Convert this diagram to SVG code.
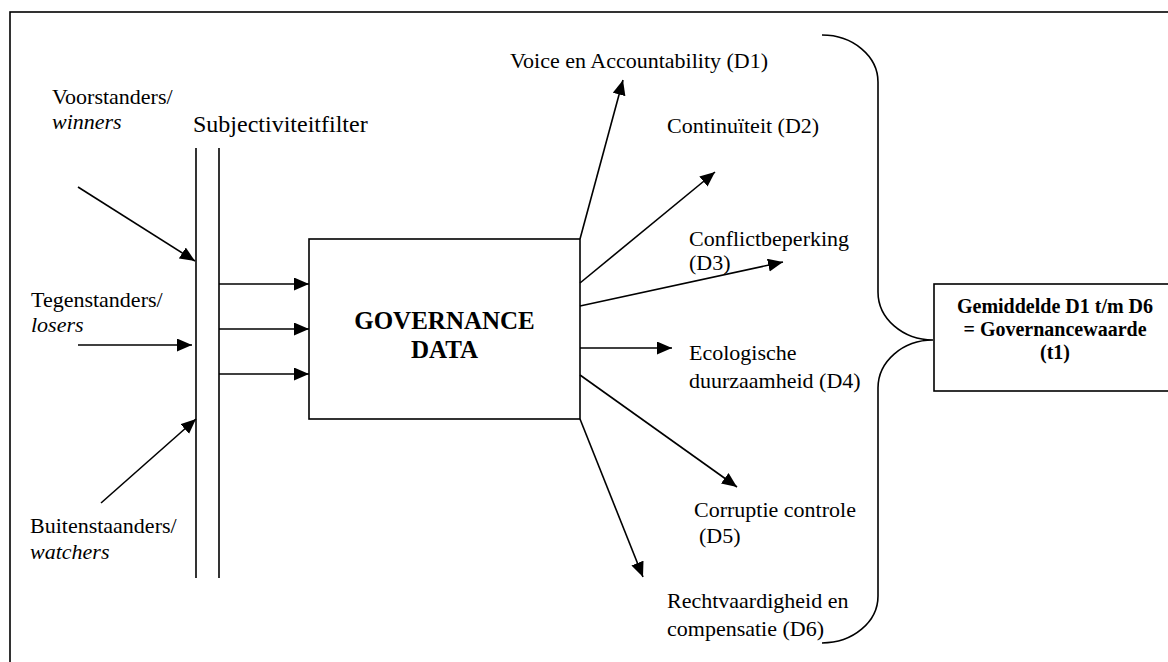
<svg xmlns="http://www.w3.org/2000/svg" width="1168" height="662" viewBox="0 0 1168 662">
<style>
  .ln { fill: none; stroke: #000; stroke-width: 1.6; }
  .t { font-family: "Liberation Serif", "Times New Roman", Times, "DejaVu Serif", serif; font-size: 22px; fill: #000; }
  .i { font-style: italic; }
  .big { font-size: 24px; }
  .gd { font-size: 25px; font-weight: bold; text-anchor: middle; }
  .rs { font-size: 20px; font-weight: bold; text-anchor: middle; }
</style>
<defs>
  <marker id="ah" markerUnits="userSpaceOnUse" markerWidth="16" markerHeight="14" refX="15" refY="6.5" orient="auto">
    <path d="M0,0 L15,6.5 L0,13 z" fill="#000"/>
  </marker>
</defs>
<rect x="0" y="0" width="1168" height="662" fill="#fff"/>
<rect id="frame" class="ln" x="10" y="12" width="1175" height="670"/>

<g id="voorstanders">
  <text class="t" x="52" y="104">Voorstanders/</text>
  <text class="t i" x="52" y="129">winners</text>
</g>
<g id="tegenstanders">
  <text class="t" x="31" y="307">Tegenstanders/</text>
  <text class="t i" x="31" y="332">losers</text>
</g>
<g id="buitenstaanders">
  <text class="t" x="30" y="533">Buitenstaanders/</text>
  <text class="t i" x="30" y="559">watchers</text>
</g>
<g id="filter">
  <text class="t big" x="193" y="132">Subjectiviteitfilter</text>
  <line class="ln" x1="196" y1="148" x2="196" y2="578"/>
  <line class="ln" x1="219" y1="148" x2="219" y2="578"/>
</g>
<g id="governance">
  <rect class="ln" x="309" y="239" width="271" height="180"/>
  <text class="t gd" x="444.5" y="329">GOVERNANCE</text>
  <text class="t gd" x="444.5" y="358">DATA</text>
</g>
<g id="d1"><text class="t" x="510" y="68">Voice en Accountability (D1)</text></g>
<g id="d2"><text class="t" x="667" y="133">Continuïteit (D2)</text></g>
<g id="d3"><text class="t" x="689" y="246">Conflictbeperking</text><text class="t" x="689" y="270">(D3)</text></g>
<g id="d4"><text class="t" x="689" y="360">Ecologische</text><text class="t" x="689" y="388">duurzaamheid (D4)</text></g>
<g id="d5"><text class="t" x="694" y="517">Corruptie controle</text><text class="t" x="699" y="543">(D5)</text></g>
<g id="d6"><text class="t" x="667" y="608">Rechtvaardigheid en</text><text class="t" x="667" y="636">compensatie (D6)</text></g>
<g id="result">
  <rect class="ln" x="934" y="284" width="245" height="107"/>
  <text class="t rs" x="1055" y="313">Gemiddelde D1 t/m D6</text>
  <text class="t rs" x="1055" y="336">= Governancewaarde</text>
  <text class="t rs" x="1055" y="359">(t1)</text>
</g>

<g id="connectors" class="ln">
  <line x1="78" y1="187" x2="195" y2="261" marker-end="url(#ah)"/>
  <line x1="78" y1="345" x2="192" y2="345" marker-end="url(#ah)"/>
  <line x1="101" y1="503" x2="196" y2="419" marker-end="url(#ah)"/>
  <line x1="219" y1="284" x2="309" y2="284" marker-end="url(#ah)"/>
  <line x1="219" y1="329" x2="309" y2="329" marker-end="url(#ah)"/>
  <line x1="219" y1="374" x2="309" y2="374" marker-end="url(#ah)"/>
  <line x1="580" y1="239" x2="623" y2="80" marker-end="url(#ah)"/>
  <line x1="580" y1="283" x2="715" y2="172" marker-end="url(#ah)"/>
  <line x1="580" y1="306" x2="783" y2="262" marker-end="url(#ah)"/>
  <line x1="580" y1="348" x2="672" y2="348" marker-end="url(#ah)"/>
  <line x1="580" y1="375" x2="737" y2="487" marker-end="url(#ah)"/>
  <line x1="580" y1="419" x2="643" y2="577" marker-end="url(#ah)"/>
  <path d="M822,35 A56,47 0 0 1 878,82 L878,292 A55,48 0 0 0 933,340 A55,48 0 0 0 878,388 L878,596 A56,47 0 0 1 822,643"/>
</g>
</svg>
